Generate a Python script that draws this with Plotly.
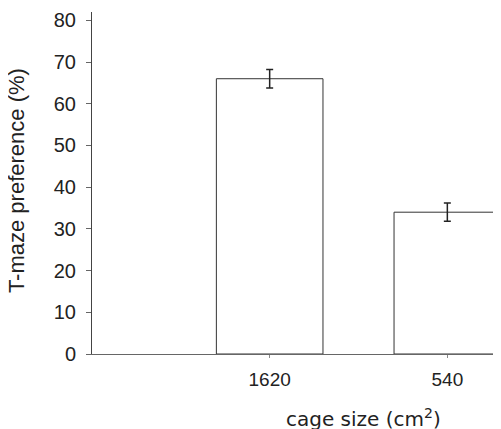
import plotly.graph_objects as go

categories = ["1620", "540"]
values = [66, 34]
errors = [2.2, 2.2]
y_ticks = [0, 10, 20, 30, 40, 50, 60, 70, 80]
x_title = "cage size (cm<sup>2</sup>)"
y_title = "T-maze preference (%)"

fig = go.Figure()
fig.add_trace(go.Bar(
    x=categories,
    y=values,
    width=0.6,
    marker=dict(color="white", line=dict(color="#333333", width=1)),
    error_y=dict(type="data", array=errors, visible=True, color="#222222",
                 thickness=1.5, width=3.5),
))

fig.update_layout(
    width=493, height=421,
    margin=dict(l=84, r=0, t=4, b=75),
    plot_bgcolor="white", paper_bgcolor="white",
    showlegend=False,
    font=dict(family="Liberation Sans, Arial", color="#222222"),
    xaxis=dict(
        type="category",
        range=[-1, 1.302],
        automargin=False,
        showline=True, linecolor="#666666", linewidth=1,
        ticks="outside", ticklen=3, tickcolor="#888888",
        tickfont=dict(size=19, family="Liberation Sans, Arial"),
        ticklabelstandoff=5,
        showgrid=False, zeroline=False,
    ),
    yaxis=dict(
        range=[0, 82],
        automargin=False,
        tickvals=y_ticks,
        showline=True, linecolor="#444444", linewidth=1,
        ticks="outside", ticklen=5, tickcolor="#666666",
        tickfont=dict(size=20, family="Liberation Sans, Arial"),
        ticklabelstandoff=6,
        showgrid=False, zeroline=False,
    ),
    annotations=[
        dict(text=x_title, xref="paper", yref="paper", x=0.665, y=-0.187,
             xanchor="center", yanchor="middle", showarrow=False,
             font=dict(size=20, family="DejaVu Sans, Verdana", color="#222222")),
        dict(text=y_title, xref="paper", yref="paper", x=-0.183, y=0.506,
             xanchor="center", yanchor="middle", showarrow=False, textangle=-90,
             font=dict(size=22, family="Liberation Sans, Arial", color="#222222")),
    ],
)

fig.write_html("out.html")
